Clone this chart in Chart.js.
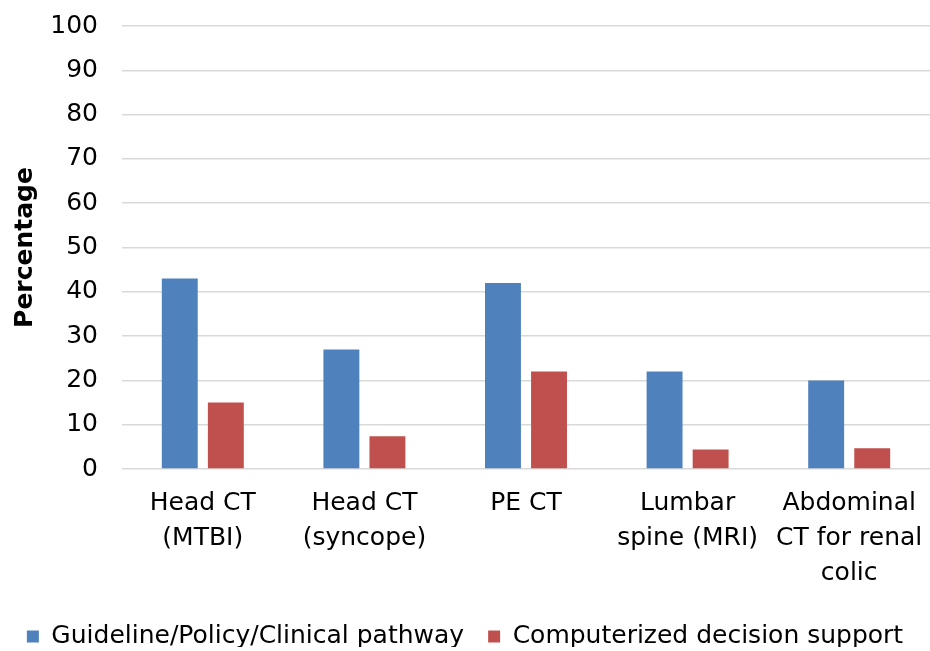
<!DOCTYPE html>
<html>
<head>
<meta charset="utf-8">
<script src="https://cdn.jsdelivr.net/npm/chart.js@4"></script>
<style>
html,body{margin:0;padding:0;background:#fff;}
#wrap{width:930px;height:651px;position:relative;}
</style>
</head>
<body>
<div id="wrap"><canvas id="c"></canvas></div>
<script>
const categories = [
  ["Head CT", "(MTBI)"],
  ["Head CT", "(syncope)"],
  ["PE CT"],
  ["Lumbar", "spine (MRI)"],
  ["Abdominal", "CT for renal", "colic"]
];
const guidelineValues = [43, 27, 42, 22, 20];
const decisionSupportValues = [15, 7.4, 22, 4.4, 4.7];
const seriesNames = ["Guideline/Policy/Clinical pathway", "Computerized decision support"];
const yTicks = [0, 10, 20, 30, 40, 50, 60, 70, 80, 90, 100];

const FONT = "'DejaVu Sans', sans-serif";

const legendShift = {
  id: 'legendShift',
  beforeInit(chart) {
    const origFit = chart.legend.fit;
    chart.legend.fit = function () {
      origFit.call(this);
      this.height -= 12;
    };
  }
};

new Chart(document.getElementById('c'), {
  type: 'bar',
  data: {
    labels: categories,
    datasets: [
      { label: seriesNames[0], data: guidelineValues, backgroundColor: '#4F81BD',
        barPercentage: 0.78, categoryPercentage: 0.57 },
      { label: seriesNames[1], data: decisionSupportValues, backgroundColor: '#C0504D',
        barPercentage: 0.78, categoryPercentage: 0.57 }
    ]
  },
  plugins: [legendShift],
  options: {
    responsive: true,
    maintainAspectRatio: false,
    animation: false,
    layout: { padding: { top: 26, right: 0, bottom: 4, left: 0 } },
    plugins: {
      tooltip: { enabled: false },
      legend: {
        position: 'bottom',
        labels: {
          boxWidth: 12, boxHeight: 12, padding: 24,
          color: '#000',
          font: { family: FONT, size: 25 }
        }
      }
    },
    scales: {
      x: {
        grid: { display: false, drawTicks: false },
        border: { display: false },
        ticks: {
          color: '#000', maxRotation: 0, minRotation: 0, autoSkip: false,
          padding: 17,
          font: { family: FONT, size: 25, lineHeight: 1.4 }
        },
        afterFit: (s) => { s.height = 131; s.paddingLeft = 0; s.paddingRight = 0; }
      },
      y: {
        min: 0, max: 100,
        afterBuildTicks: (s) => { s.ticks = yTicks.map(v => ({ value: v })); },
        grid: { color: '#D9D9D9', lineWidth: 1.5, drawTicks: false },
        border: { display: false },
        ticks: {
          color: '#000', padding: 24,
          font: { family: FONT, size: 25 }
        },
        title: {
          display: true, text: 'Percentage', color: '#000',
          font: { family: FONT, size: 25, weight: 'bold' },
          padding: { top: 10, bottom: 0 }
        },
        afterFit: (s) => { s.width = 122; s.paddingTop = 0; s.paddingBottom = 0; }
      }
    }
  }
});
</script>
</body>
</html>
